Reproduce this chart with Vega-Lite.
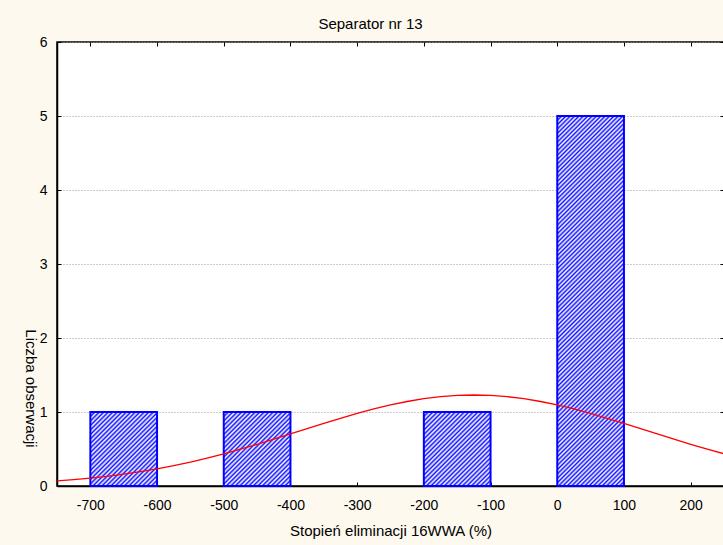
{
  "$schema": "https://vega.github.io/schema/vega-lite/v6.json",
  "autosize": "none",
  "width": 667,
  "height": 444,
  "padding": {"left": 57, "top": 42, "right": 0, "bottom": 59},
  "background": "#FDF9EF",
  "title": {"text": "Separator nr 13", "font": "Liberation Sans", "fontSize": 15, "fontWeight": "normal", "color": "#000", "anchor": "middle", "dx": -20, "offset": 3},
  "config": {
    "view": {"fill": "white", "stroke": "black", "strokeWidth": 1.5},
    "axis": {"labelFont": "Liberation Sans", "titleFont": "Liberation Sans", "labelFontSize": 14, "titleFontSize": 15, "titleFontWeight": "normal", "labelColor": "#000", "titleColor": "#000", "domainColor": "#000", "domainWidth": 1.5, "tickColor": "#000", "tickSize": -4}
  },
  "datasets": {
    "bins": [
      {"lo": -700, "hi": -600, "count": 1},
      {"lo": -500, "hi": -400, "count": 1},
      {"lo": -200, "hi": -100, "count": 1},
      {"lo": 0, "hi": 100, "count": 5}
    ],
    "curve": [
      {"x": -750, "y": 0.068}, {"x": -725, "y": 0.086}, {"x": -700, "y": 0.107}, {"x": -675, "y": 0.131},
      {"x": -650, "y": 0.160}, {"x": -625, "y": 0.194}, {"x": -600, "y": 0.232}, {"x": -575, "y": 0.275},
      {"x": -550, "y": 0.323}, {"x": -525, "y": 0.377}, {"x": -500, "y": 0.435}, {"x": -475, "y": 0.497},
      {"x": -450, "y": 0.563}, {"x": -425, "y": 0.632}, {"x": -400, "y": 0.703}, {"x": -375, "y": 0.775},
      {"x": -350, "y": 0.846}, {"x": -325, "y": 0.915}, {"x": -300, "y": 0.981}, {"x": -275, "y": 1.041},
      {"x": -250, "y": 1.096}, {"x": -225, "y": 1.142}, {"x": -200, "y": 1.180}, {"x": -175, "y": 1.207},
      {"x": -150, "y": 1.224}, {"x": -125, "y": 1.230}, {"x": -100, "y": 1.224}, {"x": -75, "y": 1.207},
      {"x": -50, "y": 1.180}, {"x": -25, "y": 1.142}, {"x": 0, "y": 1.096}, {"x": 25, "y": 1.041},
      {"x": 50, "y": 0.981}, {"x": 75, "y": 0.915}, {"x": 100, "y": 0.846}, {"x": 125, "y": 0.775},
      {"x": 150, "y": 0.703}, {"x": 175, "y": 0.632}, {"x": 200, "y": 0.563}, {"x": 225, "y": 0.497},
      {"x": 250, "y": 0.435}
    ]
  },
  "layer": [
    {
      "data": {"name": "bins"},
      "transform": [{"filter": "datum.count < 2"}],
      "mark": {"type": "rect", "stroke": "#0000FF", "strokeWidth": 2,
        "fill": {"gradient": "linear", "x1": 0, "y1": 0, "x2": 0.945, "y2": 1.049, "stops": [
          {"offset": 0, "color": "#11f"}, {"offset": 0.016, "color": "#fff"}, {"offset": 0.032, "color": "#11f"}, {"offset": 0.048, "color": "#fff"},
          {"offset": 0.064, "color": "#11f"}, {"offset": 0.08, "color": "#fff"}, {"offset": 0.096, "color": "#11f"}, {"offset": 0.112, "color": "#fff"},
          {"offset": 0.128, "color": "#11f"}, {"offset": 0.144, "color": "#fff"}, {"offset": 0.16, "color": "#11f"}, {"offset": 0.176, "color": "#fff"},
          {"offset": 0.192, "color": "#11f"}, {"offset": 0.208, "color": "#fff"}, {"offset": 0.224, "color": "#11f"}, {"offset": 0.24, "color": "#fff"},
          {"offset": 0.256, "color": "#11f"}, {"offset": 0.272, "color": "#fff"}, {"offset": 0.288, "color": "#11f"}, {"offset": 0.304, "color": "#fff"},
          {"offset": 0.32, "color": "#11f"}, {"offset": 0.336, "color": "#fff"}, {"offset": 0.352, "color": "#11f"}, {"offset": 0.368, "color": "#fff"},
          {"offset": 0.384, "color": "#11f"}, {"offset": 0.4, "color": "#fff"}, {"offset": 0.416, "color": "#11f"}, {"offset": 0.432, "color": "#fff"},
          {"offset": 0.448, "color": "#11f"}, {"offset": 0.464, "color": "#fff"}, {"offset": 0.48, "color": "#11f"}, {"offset": 0.496, "color": "#fff"},
          {"offset": 0.512, "color": "#11f"}, {"offset": 0.528, "color": "#fff"}, {"offset": 0.544, "color": "#11f"}, {"offset": 0.56, "color": "#fff"},
          {"offset": 0.576, "color": "#11f"}, {"offset": 0.592, "color": "#fff"}, {"offset": 0.608, "color": "#11f"}, {"offset": 0.624, "color": "#fff"},
          {"offset": 0.64, "color": "#11f"}, {"offset": 0.656, "color": "#fff"}, {"offset": 0.672, "color": "#11f"}, {"offset": 0.688, "color": "#fff"},
          {"offset": 0.704, "color": "#11f"}, {"offset": 0.72, "color": "#fff"}, {"offset": 0.736, "color": "#11f"}, {"offset": 0.752, "color": "#fff"},
          {"offset": 0.768, "color": "#11f"}, {"offset": 0.784, "color": "#fff"}, {"offset": 0.8, "color": "#11f"}, {"offset": 0.816, "color": "#fff"},
          {"offset": 0.832, "color": "#11f"}, {"offset": 0.848, "color": "#fff"}, {"offset": 0.864, "color": "#11f"}, {"offset": 0.88, "color": "#fff"},
          {"offset": 0.896, "color": "#11f"}, {"offset": 0.912, "color": "#fff"}, {"offset": 0.928, "color": "#11f"}, {"offset": 0.944, "color": "#fff"},
          {"offset": 0.96, "color": "#11f"}, {"offset": 0.976, "color": "#fff"}, {"offset": 0.992, "color": "#11f"}, {"offset": 1, "color": "#88f"}
        ]}},
      "encoding": {
        "x": {"field": "lo", "type": "quantitative", "scale": {"domain": [-750, 250], "nice": false},
              "axis": {"values": [-700, -600, -500, -400, -300, -200, -100, 0, 100, 200], "labelExpr": "replace(datum.label, '\u2212', '-')", "grid": false, "labelPadding": 16, "title": "Stopień eliminacji 16WWA (%)", "titleY": 44, "titleBaseline": "middle"}},
        "x2": {"field": "hi"},
        "y": {"field": "count", "type": "quantitative", "scale": {"domain": [0, 6], "nice": false},
              "axis": {"values": [0, 1, 2, 3, 4, 5, 6], "grid": true, "gridDash": [1, 2], "gridColor": "#999", "gridWidth": 1, "labelPadding": 14, "title": "Liczba obserwacji", "titleAngle": 90, "titleX": -27, "titleY": 346, "titleAlign": "center", "titleBaseline": "middle"}},
        "y2": {"datum": 0}
      }
    },
    {
      "data": {"name": "bins"},
      "transform": [{"filter": "datum.count >= 2"}],
      "mark": {"type": "rect", "stroke": "#0000FF", "strokeWidth": 2,
        "fill": {"gradient": "linear", "x1": 0, "y1": 0, "x2": 0.2061, "y2": 1.1431, "stops": [
          {"offset": 0, "color": "#11f"}, {"offset": 0.005, "color": "#fff"}, {"offset": 0.01, "color": "#11f"}, {"offset": 0.015, "color": "#fff"},
          {"offset": 0.02, "color": "#11f"}, {"offset": 0.025, "color": "#fff"}, {"offset": 0.03, "color": "#11f"}, {"offset": 0.035, "color": "#fff"},
          {"offset": 0.04, "color": "#11f"}, {"offset": 0.045, "color": "#fff"}, {"offset": 0.05, "color": "#11f"}, {"offset": 0.055, "color": "#fff"},
          {"offset": 0.06, "color": "#11f"}, {"offset": 0.065, "color": "#fff"}, {"offset": 0.07, "color": "#11f"}, {"offset": 0.075, "color": "#fff"},
          {"offset": 0.08, "color": "#11f"}, {"offset": 0.085, "color": "#fff"}, {"offset": 0.09, "color": "#11f"}, {"offset": 0.095, "color": "#fff"},
          {"offset": 0.1, "color": "#11f"}, {"offset": 0.105, "color": "#fff"}, {"offset": 0.11, "color": "#11f"}, {"offset": 0.115, "color": "#fff"},
          {"offset": 0.12, "color": "#11f"}, {"offset": 0.125, "color": "#fff"}, {"offset": 0.13, "color": "#11f"}, {"offset": 0.135, "color": "#fff"},
          {"offset": 0.14, "color": "#11f"}, {"offset": 0.145, "color": "#fff"}, {"offset": 0.15, "color": "#11f"}, {"offset": 0.155, "color": "#fff"},
          {"offset": 0.16, "color": "#11f"}, {"offset": 0.165, "color": "#fff"}, {"offset": 0.17, "color": "#11f"}, {"offset": 0.175, "color": "#fff"},
          {"offset": 0.18, "color": "#11f"}, {"offset": 0.185, "color": "#fff"}, {"offset": 0.19, "color": "#11f"}, {"offset": 0.195, "color": "#fff"},
          {"offset": 0.2, "color": "#11f"}, {"offset": 0.205, "color": "#fff"}, {"offset": 0.21, "color": "#11f"}, {"offset": 0.215, "color": "#fff"},
          {"offset": 0.22, "color": "#11f"}, {"offset": 0.225, "color": "#fff"}, {"offset": 0.23, "color": "#11f"}, {"offset": 0.235, "color": "#fff"},
          {"offset": 0.24, "color": "#11f"}, {"offset": 0.245, "color": "#fff"}, {"offset": 0.25, "color": "#11f"}, {"offset": 0.255, "color": "#fff"},
          {"offset": 0.26, "color": "#11f"}, {"offset": 0.265, "color": "#fff"}, {"offset": 0.27, "color": "#11f"}, {"offset": 0.275, "color": "#fff"},
          {"offset": 0.28, "color": "#11f"}, {"offset": 0.285, "color": "#fff"}, {"offset": 0.29, "color": "#11f"}, {"offset": 0.295, "color": "#fff"},
          {"offset": 0.3, "color": "#11f"}, {"offset": 0.305, "color": "#fff"}, {"offset": 0.31, "color": "#11f"}, {"offset": 0.315, "color": "#fff"},
          {"offset": 0.32, "color": "#11f"}, {"offset": 0.325, "color": "#fff"}, {"offset": 0.33, "color": "#11f"}, {"offset": 0.335, "color": "#fff"},
          {"offset": 0.34, "color": "#11f"}, {"offset": 0.345, "color": "#fff"}, {"offset": 0.35, "color": "#11f"}, {"offset": 0.355, "color": "#fff"},
          {"offset": 0.36, "color": "#11f"}, {"offset": 0.365, "color": "#fff"}, {"offset": 0.37, "color": "#11f"}, {"offset": 0.375, "color": "#fff"},
          {"offset": 0.38, "color": "#11f"}, {"offset": 0.385, "color": "#fff"}, {"offset": 0.39, "color": "#11f"}, {"offset": 0.395, "color": "#fff"},
          {"offset": 0.4, "color": "#11f"}, {"offset": 0.405, "color": "#fff"}, {"offset": 0.41, "color": "#11f"}, {"offset": 0.415, "color": "#fff"},
          {"offset": 0.42, "color": "#11f"}, {"offset": 0.425, "color": "#fff"}, {"offset": 0.43, "color": "#11f"}, {"offset": 0.435, "color": "#fff"},
          {"offset": 0.44, "color": "#11f"}, {"offset": 0.445, "color": "#fff"}, {"offset": 0.45, "color": "#11f"}, {"offset": 0.455, "color": "#fff"},
          {"offset": 0.46, "color": "#11f"}, {"offset": 0.465, "color": "#fff"}, {"offset": 0.47, "color": "#11f"}, {"offset": 0.475, "color": "#fff"},
          {"offset": 0.48, "color": "#11f"}, {"offset": 0.485, "color": "#fff"}, {"offset": 0.49, "color": "#11f"}, {"offset": 0.495, "color": "#fff"},
          {"offset": 0.5, "color": "#11f"}, {"offset": 0.505, "color": "#fff"}, {"offset": 0.51, "color": "#11f"}, {"offset": 0.515, "color": "#fff"},
          {"offset": 0.52, "color": "#11f"}, {"offset": 0.525, "color": "#fff"}, {"offset": 0.53, "color": "#11f"}, {"offset": 0.535, "color": "#fff"},
          {"offset": 0.54, "color": "#11f"}, {"offset": 0.545, "color": "#fff"}, {"offset": 0.55, "color": "#11f"}, {"offset": 0.555, "color": "#fff"},
          {"offset": 0.56, "color": "#11f"}, {"offset": 0.565, "color": "#fff"}, {"offset": 0.57, "color": "#11f"}, {"offset": 0.575, "color": "#fff"},
          {"offset": 0.58, "color": "#11f"}, {"offset": 0.585, "color": "#fff"}, {"offset": 0.59, "color": "#11f"}, {"offset": 0.595, "color": "#fff"},
          {"offset": 0.6, "color": "#11f"}, {"offset": 0.605, "color": "#fff"}, {"offset": 0.61, "color": "#11f"}, {"offset": 0.615, "color": "#fff"},
          {"offset": 0.62, "color": "#11f"}, {"offset": 0.625, "color": "#fff"}, {"offset": 0.63, "color": "#11f"}, {"offset": 0.635, "color": "#fff"},
          {"offset": 0.64, "color": "#11f"}, {"offset": 0.645, "color": "#fff"}, {"offset": 0.65, "color": "#11f"}, {"offset": 0.655, "color": "#fff"},
          {"offset": 0.66, "color": "#11f"}, {"offset": 0.665, "color": "#fff"}, {"offset": 0.67, "color": "#11f"}, {"offset": 0.675, "color": "#fff"},
          {"offset": 0.68, "color": "#11f"}, {"offset": 0.685, "color": "#fff"}, {"offset": 0.69, "color": "#11f"}, {"offset": 0.695, "color": "#fff"},
          {"offset": 0.7, "color": "#11f"}, {"offset": 0.705, "color": "#fff"}, {"offset": 0.71, "color": "#11f"}, {"offset": 0.715, "color": "#fff"},
          {"offset": 0.72, "color": "#11f"}, {"offset": 0.725, "color": "#fff"}, {"offset": 0.73, "color": "#11f"}, {"offset": 0.735, "color": "#fff"},
          {"offset": 0.74, "color": "#11f"}, {"offset": 0.745, "color": "#fff"}, {"offset": 0.75, "color": "#11f"}, {"offset": 0.755, "color": "#fff"},
          {"offset": 0.76, "color": "#11f"}, {"offset": 0.765, "color": "#fff"}, {"offset": 0.77, "color": "#11f"}, {"offset": 0.775, "color": "#fff"},
          {"offset": 0.78, "color": "#11f"}, {"offset": 0.785, "color": "#fff"}, {"offset": 0.79, "color": "#11f"}, {"offset": 0.795, "color": "#fff"},
          {"offset": 0.8, "color": "#11f"}, {"offset": 0.805, "color": "#fff"}, {"offset": 0.81, "color": "#11f"}, {"offset": 0.815, "color": "#fff"},
          {"offset": 0.82, "color": "#11f"}, {"offset": 0.825, "color": "#fff"}, {"offset": 0.83, "color": "#11f"}, {"offset": 0.835, "color": "#fff"},
          {"offset": 0.84, "color": "#11f"}, {"offset": 0.845, "color": "#fff"}, {"offset": 0.85, "color": "#11f"}, {"offset": 0.855, "color": "#fff"},
          {"offset": 0.86, "color": "#11f"}, {"offset": 0.865, "color": "#fff"}, {"offset": 0.87, "color": "#11f"}, {"offset": 0.875, "color": "#fff"},
          {"offset": 0.88, "color": "#11f"}, {"offset": 0.885, "color": "#fff"}, {"offset": 0.89, "color": "#11f"}, {"offset": 0.895, "color": "#fff"},
          {"offset": 0.9, "color": "#11f"}, {"offset": 0.905, "color": "#fff"}, {"offset": 0.91, "color": "#11f"}, {"offset": 0.915, "color": "#fff"},
          {"offset": 0.92, "color": "#11f"}, {"offset": 0.925, "color": "#fff"}, {"offset": 0.93, "color": "#11f"}, {"offset": 0.935, "color": "#fff"},
          {"offset": 0.94, "color": "#11f"}, {"offset": 0.945, "color": "#fff"}, {"offset": 0.95, "color": "#11f"}, {"offset": 0.955, "color": "#fff"},
          {"offset": 0.96, "color": "#11f"}, {"offset": 0.965, "color": "#fff"}, {"offset": 0.97, "color": "#11f"}, {"offset": 0.975, "color": "#fff"},
          {"offset": 0.98, "color": "#11f"}, {"offset": 0.985, "color": "#fff"}, {"offset": 0.99, "color": "#11f"}, {"offset": 0.995, "color": "#fff"},
          {"offset": 1, "color": "#11f"}
        ]}},
      "encoding": {
        "x": {"field": "lo", "type": "quantitative", "axis": null},
        "x2": {"field": "hi"},
        "y": {"field": "count", "type": "quantitative", "axis": null},
        "y2": {"datum": 0}
      }
    },
    {
      "data": {"name": "curve"},
      "mark": {"type": "line", "color": "#FF0000", "strokeWidth": 1.3, "clip": true},
      "encoding": {
        "x": {"field": "x", "type": "quantitative", "axis": {"orient": "top", "values": [-700, -600, -500, -400, -300, -200, -100, 0, 100, 200], "labels": false, "title": null, "grid": false, "domain": false}},
        "y": {"field": "y", "type": "quantitative", "axis": {"orient": "right", "values": [0, 1, 2, 3, 4, 5, 6], "labels": false, "title": null, "grid": false, "domain": false}}
      }
    }
  ],
  "resolve": {"axis": {"x": "independent", "y": "independent"}}
}
